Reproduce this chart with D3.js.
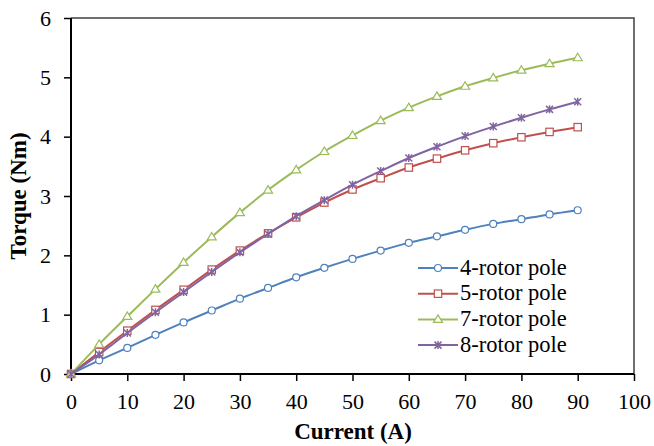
<!DOCTYPE html>
<html>
<head>
<meta charset="utf-8">
<script src="https://cdn.jsdelivr.net/npm/d3@7"></script>
<style>
  body { margin: 0; background: #fff; }
  svg text { font-family: "Liberation Serif", "Times New Roman", serif; }
</style>
</head>
<body>
<svg id="chart"></svg>
<script>
// chart data
const current = [0, 5, 10, 15, 20, 25, 30, 35, 40, 45, 50, 55, 60, 65, 70, 75, 80, 85, 90];
const pole4 = [0, 0.23, 0.44, 0.66, 0.87, 1.07, 1.27, 1.45, 1.63, 1.79, 1.94, 2.08, 2.21, 2.32, 2.43, 2.53, 2.61, 2.69, 2.76];
const pole5 = [0, 0.37, 0.73, 1.08, 1.42, 1.76, 2.08, 2.37, 2.64, 2.89, 3.11, 3.30, 3.48, 3.63, 3.77, 3.89, 3.99, 4.08, 4.16];
const pole7 = [0, 0.50, 0.97, 1.43, 1.88, 2.31, 2.72, 3.10, 3.44, 3.75, 4.02, 4.27, 4.49, 4.68, 4.85, 4.99, 5.12, 5.23, 5.33];
const pole8 = [0, 0.33, 0.69, 1.04, 1.38, 1.72, 2.05, 2.36, 2.66, 2.93, 3.19, 3.42, 3.64, 3.83, 4.01, 4.17, 4.32, 4.46, 4.59];
const seriesNames = ["4-rotor pole", "5-rotor pole", "7-rotor pole", "8-rotor pole"];
const xTicks = [0, 10, 20, 30, 40, 50, 60, 70, 80, 90, 100];
const yTicks = [0, 1, 2, 3, 4, 5, 6];

const width = 654, height = 446;
const plotLeft = 71, plotRight = 634, plotTop = 18, plotBottom = 374;

const svg = d3.select("#chart").attr("width", width).attr("height", height);

const x = d3.scaleLinear().domain([0, 100]).range([plotLeft, plotRight]);
const y = d3.scaleLinear().domain([0, 6]).range([plotBottom, plotTop]);

// plot border (top + right)
svg.append("path")
   .attr("d", `M${plotLeft},${plotTop}H${plotRight}V${plotBottom}`)
   .attr("fill", "none")
   .attr("stroke", "#404040")
   .attr("stroke-width", 1.5);

// axes
const xAxis = svg.append("g")
   .attr("transform", `translate(0,${plotBottom})`)
   .call(d3.axisBottom(x).tickValues(xTicks).tickSize(7).tickPadding(12));
const yAxis = svg.append("g")
   .attr("transform", `translate(${plotLeft},0)`)
   .call(d3.axisLeft(y).tickValues(yTicks).tickFormat(d3.format("d")).tickSize(7).tickPadding(13));

[xAxis, yAxis].forEach(g => {
  g.select(".domain").attr("stroke", "#000").attr("stroke-width", 2);
  g.selectAll(".tick line").attr("stroke", "#000").attr("stroke-width", 1.5);
  g.selectAll(".tick text").attr("font-size", 22).attr("fill", "#000")
   .style("font-family", "'Liberation Serif', serif");
});
yAxis.select(".domain").attr("d", `M0,${plotBottom}V${plotTop}`);
xAxis.select(".domain").attr("d", `M${plotLeft},0H${plotRight}`);

// axis titles
svg.append("text")
   .attr("x", 353).attr("y", 439)
   .attr("text-anchor", "middle")
   .attr("font-size", 23).attr("font-weight", "bold")
   .text("Current (A)");
svg.append("text")
   .attr("transform", `translate(26,${(plotTop + plotBottom) / 2}) rotate(-90)`)
   .attr("text-anchor", "middle")
   .attr("font-size", 23).attr("font-weight", "bold")
   .text("Torque (Nm)");

const series = [
  { name: seriesNames[0], values: pole4, color: "#4F81BD", marker: "circle" },
  { name: seriesNames[1], values: pole5, color: "#C0504D", marker: "square" },
  { name: seriesNames[2], values: pole7, color: "#9BBB59", marker: "triangle" },
  { name: seriesNames[3], values: pole8, color: "#8064A2", marker: "star" }
];

const line = d3.line()
   .x((d, i) => x(current[i]))
   .y(d => y(d))
   .curve(d3.curveCatmullRom);

function drawMarker(g, type, cx, cy, color) {
  if (type === "circle") {
    g.append("circle").attr("cx", cx).attr("cy", cy).attr("r", 3.5)
     .attr("fill", "#fff").attr("stroke", color).attr("stroke-width", 1.2);
  } else if (type === "square") {
    g.append("rect").attr("x", cx - 3.7).attr("y", cy - 3.7).attr("width", 7.4).attr("height", 7.4)
     .attr("fill", "#fff").attr("stroke", color).attr("stroke-width", 1.2);
  } else if (type === "triangle") {
    g.append("path").attr("d", `M${cx},${cy - 4.5}L${cx + 4.5},${cy + 3}L${cx - 4.5},${cy + 3}Z`)
     .attr("fill", "#fff").attr("stroke", color).attr("stroke-width", 1.2);
  } else {
    g.append("path").attr("d", `M${cx - 3.5},${cy - 3.5}L${cx + 3.5},${cy + 3.5}M${cx + 3.5},${cy - 3.5}L${cx - 3.5},${cy + 3.5}M${cx},${cy - 4}V${cy + 4}`)
     .attr("fill", "none").attr("stroke", color).attr("stroke-width", 1.5);
  }
}

series.forEach(s => {
  const g = svg.append("g");
  g.append("path").datum(s.values)
   .attr("d", line)
   .attr("fill", "none")
   .attr("stroke", s.color)
   .attr("stroke-width", 2);
  s.values.forEach((v, i) => drawMarker(g, s.marker, x(current[i]), y(v), s.color));
});

// legend
const legend = svg.append("g").attr("transform", "translate(418,268)");
series.forEach((s, i) => {
  const g = legend.append("g").attr("transform", `translate(0,${i * 25.7})`);
  g.append("line").attr("x1", 0).attr("x2", 40).attr("y1", 0).attr("y2", 0)
   .attr("stroke", s.color).attr("stroke-width", 2);
  drawMarker(g, s.marker, 20, 0, s.color);
  g.append("text").attr("x", 42).attr("y", 6.5)
   .attr("font-size", 22.5).text(s.name);
});
</script>
</body>
</html>
